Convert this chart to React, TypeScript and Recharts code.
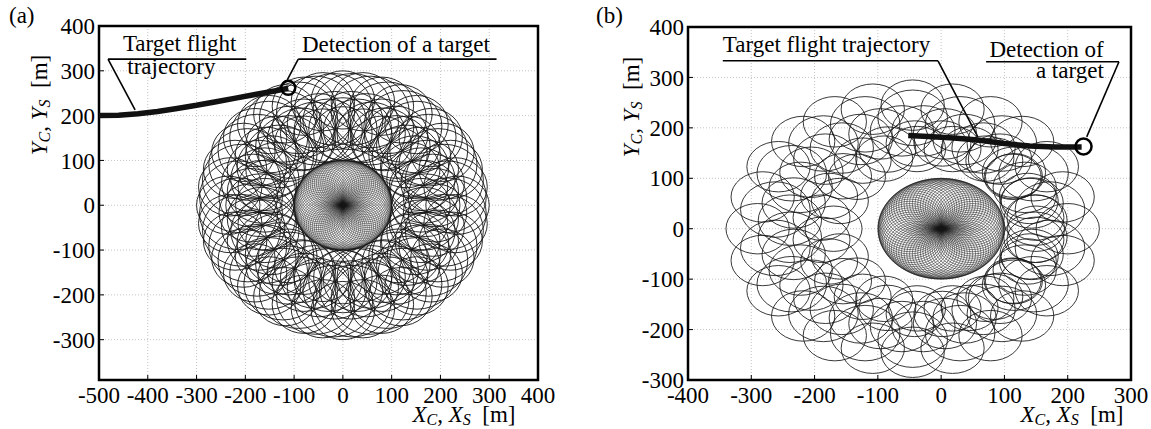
import React from 'react';
import {
  ScatterChart,
  Scatter,
  XAxis,
  YAxis,
  CartesianGrid,
  ReferenceArea,
  ReferenceLine,
  ReferenceDot,
  Label,
} from 'recharts';

type Pt = [number, number];

const FONT = "'Liberation Serif', 'Times New Roman', serif";

// ---------- axes ----------
const xDomainA: [number, number] = [-500, 400];
const yDomainA: [number, number] = [-390, 400];
const xTicksA = [-500, -400, -300, -200, -100, 0, 100, 200, 300, 400];
const yTicksA = [-300, -200, -100, 0, 100, 200, 300, 400];

const xDomainB: [number, number] = [-400, 300];
const yDomainB: [number, number] = [-300, 400];
const xTicksB = [-400, -300, -200, -100, 0, 100, 200, 300];
const yTicksB = [-300, -200, -100, 0, 100, 200, 300, 400];

// ---------- loops (centre x, centre y) and their radii [m] ----------
// small loops through the origin (both panels)
const innerLoops: Pt[] = [
  [50, 0], [49.8, 4.4], [49.2, 8.7], [48.3, 12.9], [47, 17.1], [45.3, 21.1], [43.3, 25], [41, 28.7], [38.3, 32.1],
  [35.4, 35.4], [32.1, 38.3], [28.7, 41], [25, 43.3], [21.1, 45.3], [17.1, 47], [12.9, 48.3], [8.7, 49.2], [4.4, 49.8],
  [0, 50], [-4.4, 49.8], [-8.7, 49.2], [-12.9, 48.3], [-17.1, 47], [-21.1, 45.3], [-25, 43.3], [-28.7, 41], [-32.1, 38.3],
  [-35.4, 35.4], [-38.3, 32.1], [-41, 28.7], [-43.3, 25], [-45.3, 21.1], [-47, 17.1], [-48.3, 12.9], [-49.2, 8.7], [-49.8, 4.4],
  [-50, 0], [-49.8, -4.4], [-49.2, -8.7], [-48.3, -12.9], [-47, -17.1], [-45.3, -21.1], [-43.3, -25], [-41, -28.7], [-38.3, -32.1],
  [-35.4, -35.4], [-32.1, -38.3], [-28.7, -41], [-25, -43.3], [-21.1, -45.3], [-17.1, -47], [-12.9, -48.3], [-8.7, -49.2], [-4.4, -49.8],
  [0, -50], [4.4, -49.8], [8.7, -49.2], [12.9, -48.3], [17.1, -47], [21.1, -45.3], [25, -43.3], [28.7, -41], [32.1, -38.3],
  [35.4, -35.4], [38.3, -32.1], [41, -28.7], [43.3, -25], [45.3, -21.1], [47, -17.1], [48.3, -12.9], [49.2, -8.7], [49.8, -4.4],
];
const innerLoopRadius = 50;

// panel (a) outer loops
const ringA1: Pt[] = [
  [235, 0], [231, 41], [221, 80], [204, 118], [180, 151], [151, 180], [118, 204], [80, 221], [41, 231], [0, 235],
  [-41, 231], [-80, 221], [-118, 204], [-151, 180], [-180, 151], [-204, 118], [-221, 80], [-231, 41], [-235, 0],
  [-231, -41], [-221, -80], [-204, -118], [-180, -151], [-151, -180], [-118, -204], [-80, -221], [-41, -231], [0, -235],
  [41, -231], [80, -221], [118, -204], [151, -180], [180, -151], [204, -118], [221, -80], [231, -41],
];
const ringA1Radius = 65;
const ringA2: Pt[] = [
  [189, 17], [184, 49], [172, 80], [156, 109], [134, 134], [109, 156], [80, 172], [49, 184], [17, 189],
  [-17, 189], [-49, 184], [-80, 172], [-109, 156], [-134, 134], [-156, 109], [-172, 80], [-184, 49], [-189, 17],
  [-189, -17], [-184, -49], [-172, -80], [-156, -109], [-134, -134], [-109, -156], [-80, -172], [-49, -184], [-17, -189],
  [17, -189], [49, -184], [80, -172], [109, -156], [134, -134], [156, -109], [172, -80], [184, -49], [189, -17],
];
const ringA2Radius = 65;
const ringA3: Pt[] = [
  [160, 0], [155, 41], [139, 80], [113, 113], [80, 139], [41, 155], [0, 160], [-41, 155], [-80, 139], [-113, 113],
  [-139, 80], [-155, 41], [-160, 0], [-155, -41], [-139, -80], [-113, -113], [-80, -139], [-41, -155], [0, -160],
  [41, -155], [80, -139], [113, -113], [139, -80], [155, -41],
];
const ringA3Radius = 60;
const ringA4: Pt[] = [
  [214, 19], [208, 56], [195, 91], [176, 123], [152, 152], [123, 176], [91, 195], [56, 208], [19, 214],
  [-19, 214], [-56, 208], [-91, 195], [-123, 176], [-152, 152], [-176, 123], [-195, 91], [-208, 56], [-214, 19],
  [-214, -19], [-208, -56], [-195, -91], [-176, -123], [-152, -152], [-123, -176], [-91, -195], [-56, -208], [-19, -214],
  [19, -214], [56, -208], [91, -195], [123, -176], [152, -152], [176, -123], [195, -91], [208, -56], [214, -19],
];
const ringA4Radius = 80;
const ringA5: Pt[] = [
  [170, 0], [167, 30], [160, 58], [147, 85], [130, 109], [109, 130], [85, 147], [58, 160], [30, 167], [0, 170],
  [-30, 167], [-58, 160], [-85, 147], [-109, 130], [-130, 109], [-147, 85], [-160, 58], [-167, 30], [-170, 0],
  [-167, -30], [-160, -58], [-147, -85], [-130, -109], [-109, -130], [-85, -147], [-58, -160], [-30, -167], [0, -170],
  [30, -167], [58, -160], [85, -147], [109, -130], [130, -109], [147, -85], [160, -58], [167, -30],
];
const ringA5Radius = 70;

// panel (b) outer loops
const ringB1: Pt[] = [
  [200, 0], [192, 63], [167, 123], [128, 173], [78, 212], [18, 237], [-45, 245], [-108, 237], [-168, 212], [-218, 173],
  [-257, 123], [-282, 63], [-290, 0], [-282, -63], [-257, -123], [-218, -173], [-168, -212], [-108, -237], [-45, -245],
  [18, -237], [78, -212], [128, -173], [167, -123], [192, -63],
];
const ringB1Radius = 50;
const ringB2: Pt[] = [
  [149, 17], [143, 51], [132, 82], [115, 112], [93, 138], [67, 160], [37, 177], [6, 188], [-28, 194],
  [-62, 194], [-96, 188], [-127, 177], [-157, 160], [-183, 138], [-205, 112], [-222, 82], [-233, 51], [-239, 17],
  [-239, -17], [-233, -51], [-222, -82], [-205, -112], [-183, -138], [-157, -160], [-127, -177], [-96, -188], [-62, -194],
  [-28, -194], [6, -188], [37, -177], [67, -160], [93, -138], [115, -112], [132, -82], [143, -51], [149, -17],
];
const ringB2Radius = 50;
const ringB3: Pt[] = [
  [150, 0], [140, 55], [113, 103], [70, 139], [18, 158], [-38, 158], [-90, 139], [-133, 103], [-160, 55],
  [-170, 0], [-160, -55], [-133, -103], [-90, -139], [-38, -158], [18, -158], [70, -139], [113, -103], [140, -55],
];
const ringB3Radius = 45;
const ringB4: Pt[] = [
  [172, 38], [146, 110], [96, 169], [30, 207], [-45, 220], [-120, 207], [-186, 169], [-236, 110], [-262, 38],
  [-262, -38], [-236, -110], [-186, -169], [-120, -207], [-45, -220], [30, -207], [96, -169], [146, -110], [172, -38],
];
const ringB4Radius = 55;
const ringB5: Pt[] = [
  [149, 22], [137, 65], [115, 104], [84, 135], [45, 157], [2, 169], [-42, 169], [-85, 157], [-124, 135], [-155, 104],
  [-177, 65], [-189, 22], [-189, -22], [-177, -65], [-155, -104], [-124, -135], [-85, -157], [-42, -169], [2, -169],
  [45, -157], [84, -135], [115, -104], [137, -65], [149, -22],
];
const ringB5Radius = 45;

// ---------- target trajectories ----------
const trajAX = [-500, -460, -420, -380, -340, -300, -260, -220, -180, -140, -112];
const trajAY = [200, 201, 204, 209, 216, 223, 231, 239, 247, 255, 261];
const detectA = { x: -112, y: 262 };

const trajBX = [-52, -20, 20, 58, 100, 140, 180, 222];
const trajBY = [185, 183, 180, 176, 169, 164, 162, 162];
const detectB = { x: 225, y: 163 };

// ---------- annotations ----------
const notesA = [
  { x: -451, y: 344, text: 'Target flight' },
  { x: -442, y: 293, text: 'trajectory' },
  { x: -84, y: 342, text: 'Detection of a target' },
];
const notesAAnchor = ['start', 'start', 'start'];
const leadersA: Pt[][] = [
  [[-481.5, 326], [-198, 326]],
  [[-481.5, 326], [-426, 213]],
  [[-91.5, 326], [315, 326]],
  [[-91.5, 326], [-114, 280]],
];

const notesB = [
  { x: -345, y: 350, text: 'Target flight trajectory' },
  { x: 257, y: 341, text: 'Detection of' },
  { x: 257, y: 299, text: 'a target' },
];
const notesBAnchor = ['start', 'end', 'end'];
const leadersB: Pt[][] = [
  [[-345, 333], [-5, 333]],
  [[-5, 333], [58, 182]],
  [[71, 331], [281, 331]],
  [[281, 331], [230, 182]],
];

const toLoops = (pts: Pt[], r: number) => pts.map(([x, y]) => ({ x, y, r }));
const toLine = (xs: number[], ys: number[]) => xs.map((x, i) => ({ x, y: ys[i] }));

function AxisTitle({ x, y, letter, rotate }: { x: number; y: number; letter: string; rotate?: boolean }) {
  return (
    <text
      x={x}
      y={y}
      textAnchor="middle"
      fontFamily={FONT}
      fontSize={23}
      fill="#000"
      transform={rotate ? `rotate(-90 ${x} ${y})` : undefined}
    >
      <tspan fontStyle="italic">{letter}</tspan>
      <tspan fontStyle="italic" fontSize={16} dy={3}>C</tspan>
      <tspan dy={-3}>,{'\u00a0'}</tspan>
      <tspan fontStyle="italic">{letter}</tspan>
      <tspan fontStyle="italic" fontSize={16} dy={3}>S</tspan>
      <tspan dy={-3}>{'\u00a0\u00a0[m]'}</tspan>
    </text>
  );
}

interface LoopSet {
  data: { x: number; y: number; r: number }[];
  width: number;
}

interface PanelProps {
  left: number;
  width: number;
  height: number;
  margin: { top: number; right: number; bottom: number; left: number };
  yAxisWidth: number;
  xDomain: [number, number];
  yDomain: [number, number];
  xTicks: number[];
  yTicks: number[];
  loops: LoopSet[];
  trajectory: { x: number; y: number }[];
  detection: { x: number; y: number };
  detectionR: number;
  notes: { x: number; y: number; text: string; anchor: string }[];
  leaders: Pt[][];
  xTitleFromRight: number;
  yTitleX: number;
  yTitleY: number;
}

const X_AXIS_H = 40;

function Panel(p: PanelProps) {
  const plotW = p.width - p.margin.left - p.margin.right - p.yAxisWidth;
  const plotH = p.height - p.margin.top - p.margin.bottom - X_AXIS_H;
  const sx = plotW / (p.xDomain[1] - p.xDomain[0]);
  const sy = plotH / (p.yDomain[1] - p.yDomain[0]);

  const makeLoopShape = (w: number) => (s: any) => {
    const r = s.payload.r;
    return <ellipse cx={s.cx} cy={s.cy} rx={r * sx} ry={r * sy} fill="none" stroke="#151515" strokeWidth={w} />;
  };
  const noteShape = (s: any) => (
    <text x={s.cx} y={s.cy} textAnchor={s.payload.anchor} fontFamily={FONT} fontSize={23} fill="#000">
      {s.payload.text}
    </text>
  );
  const tickStyle = { fontFamily: FONT, fontSize: 23, fill: '#000' };

  return (
    <div style={{ position: 'absolute', left: p.left, top: 0, width: p.width, height: p.height }}>
      <ScatterChart width={p.width} height={p.height} margin={p.margin}>
        <CartesianGrid stroke="#c4c4c4" strokeDasharray="1 2" />
        <XAxis
          type="number"
          dataKey="x"
          domain={p.xDomain}
          ticks={p.xTicks}
          interval={0}
          allowDataOverflow
          height={X_AXIS_H}
          tickSize={-5}
          tickMargin={12}
          axisLine={false}
          tickLine={{ stroke: '#000' }}
          tick={tickStyle}
        >
          <Label
            content={(lp: any) => {
              const vb = lp.viewBox || { x: 0, y: 0, width: 0 };
              return <AxisTitle x={vb.x + vb.width - p.xTitleFromRight} y={vb.y + 42} letter="X" />;
            }}
          />
        </XAxis>
        <XAxis
          xAxisId="top"
          orientation="top"
          type="number"
          domain={p.xDomain}
          ticks={p.xTicks}
          interval={0}
          allowDataOverflow
          height={0}
          tickSize={-5}
          axisLine={false}
          tickLine={{ stroke: '#000' }}
          tick={false}
        />
        <YAxis
          type="number"
          dataKey="y"
          domain={p.yDomain}
          ticks={p.yTicks}
          interval={0}
          allowDataOverflow
          width={p.yAxisWidth}
          tickSize={-5}
          tickMargin={9}
          axisLine={false}
          tickLine={{ stroke: '#000' }}
          tick={tickStyle}
        >
          <Label
            content={(lp: any) => {
              const vb = lp.viewBox || { x: 0, y: 0 };
              return <AxisTitle x={vb.x + p.yTitleX} y={p.yTitleY} letter="Y" rotate />;
            }}
          />
        </YAxis>
        <YAxis
          yAxisId="right"
          orientation="right"
          type="number"
          domain={p.yDomain}
          ticks={p.yTicks}
          interval={0}
          allowDataOverflow
          width={0}
          tickSize={-5}
          axisLine={false}
          tickLine={{ stroke: '#000' }}
          tick={false}
        />
        {p.loops.map((set, i) => (
          <Scatter key={`loops-${i}`} data={set.data} shape={makeLoopShape(set.width)} isAnimationActive={false} />
        ))}
        <Scatter
          data={p.trajectory}
          line={{ stroke: '#111', strokeWidth: 5.5 }}
          lineType="joint"
          shape={() => <g />}
          isAnimationActive={false}
        />
        <ReferenceDot
          x={p.detection.x}
          y={p.detection.y}
          r={p.detectionR}
          fill="none"
          stroke="#000"
          strokeWidth={2.5}
        />
        {p.leaders.map((seg, i) => (
          <ReferenceLine
            key={`lead-${i}`}
            segment={[{ x: seg[0][0], y: seg[0][1] }, { x: seg[1][0], y: seg[1][1] }]}
            stroke="#000"
            strokeWidth={1.6}
            ifOverflow="visible"
          />
        ))}
        <Scatter data={p.notes} shape={noteShape} isAnimationActive={false} />
        <ReferenceArea
          x1={p.xDomain[0]}
          x2={p.xDomain[1]}
          y1={p.yDomain[0]}
          y2={p.yDomain[1]}
          fill="none"
          stroke="#000"
          strokeWidth={2.5}
          ifOverflow="visible"
        />
      </ScatterChart>
    </div>
  );
}

export default function App() {
  const loopsA: LoopSet[] = [
    { data: toLoops(innerLoops, innerLoopRadius), width: 0.45 },
    { data: toLoops(ringA1, ringA1Radius), width: 0.9 },
    { data: toLoops(ringA2, ringA2Radius), width: 0.9 },
    { data: toLoops(ringA3, ringA3Radius), width: 0.9 },
    { data: toLoops(ringA4, ringA4Radius), width: 0.9 },
    { data: toLoops(ringA5, ringA5Radius), width: 0.9 },
  ];
  const loopsB: LoopSet[] = [
    { data: toLoops(innerLoops, innerLoopRadius), width: 0.5 },
    { data: toLoops(ringB1, ringB1Radius), width: 0.85 },
    { data: toLoops(ringB2, ringB2Radius), width: 0.85 },
    { data: toLoops(ringB3, ringB3Radius), width: 0.85 },
    { data: toLoops(ringB4, ringB4Radius), width: 0.85 },
    { data: toLoops(ringB5, ringB5Radius), width: 0.85 },
  ];
  const tagStyle: React.CSSProperties = {
    position: 'absolute',
    top: 3,
    fontFamily: FONT,
    fontSize: 23,
    color: '#000',
    lineHeight: '26px',
  };
  return (
    <div style={{ position: 'absolute', left: 0, top: 0, width: 1151, height: 429, background: '#fff' }}>
      <Panel
        left={0}
        width={575}
        height={429}
        margin={{ top: 26, right: 37, bottom: 9, left: 0 }}
        yAxisWidth={99}
        xDomain={xDomainA}
        yDomain={yDomainA}
        xTicks={xTicksA}
        yTicks={yTicksA}
        loops={loopsA}
        trajectory={toLine(trajAX, trajAY)}
        detection={detectA}
        detectionR={7}
        notes={notesA.map((n, i) => ({ ...n, anchor: notesAAnchor[i] }))}
        leaders={leadersA}
        xTitleFromRight={74}
        yTitleX={47}
        yTitleY={105}
      />
      <Panel
        left={575}
        width={576}
        height={429}
        margin={{ top: 27, right: 20, bottom: 9, left: 0 }}
        yAxisWidth={113}
        xDomain={xDomainB}
        yDomain={yDomainB}
        xTicks={xTicksB}
        yTicks={yTicksB}
        loops={loopsB}
        trajectory={toLine(trajBX, trajBY)}
        detection={detectB}
        detectionR={8}
        notes={notesB.map((n, i) => ({ ...n, anchor: notesBAnchor[i] }))}
        leaders={leadersB}
        xTitleFromRight={59}
        yTitleX={64}
        yTitleY={107}
      />
      <div style={{ ...tagStyle, left: 9 }}>(a)</div>
      <div style={{ ...tagStyle, left: 596 }}>(b)</div>
    </div>
  );
}
